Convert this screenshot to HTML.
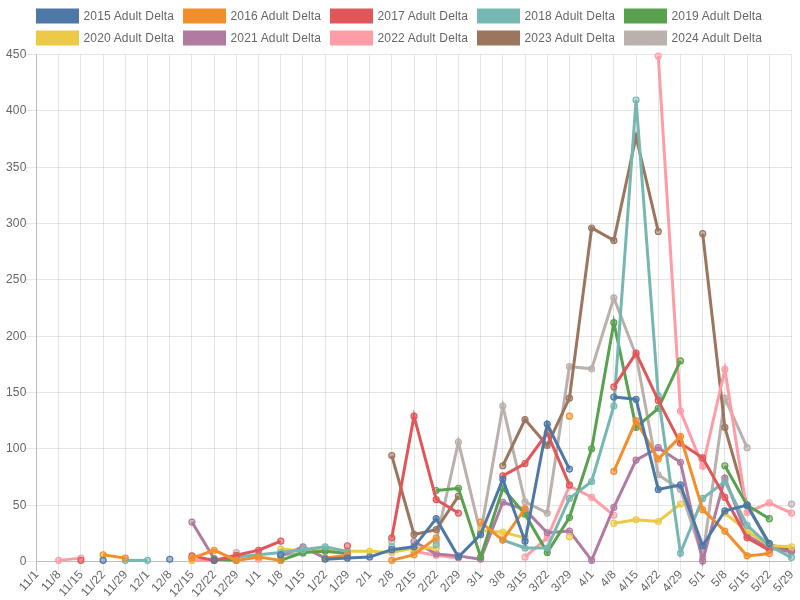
<!DOCTYPE html>
<html><head><meta charset="utf-8"><style>
html,body{margin:0;padding:0;background:#fff;width:800px;height:600px;overflow:hidden;position:relative}
.t{font-family:"Liberation Sans",sans-serif;font-size:12px;fill:#666;letter-spacing:0.16px}
</style></head><body>
<svg width="800" height="600" viewBox="0 0 800 600" style="position:absolute;left:0;top:0;will-change:transform">
<line x1="26" y1="561.5" x2="36" y2="561.5" stroke="rgba(0,0,0,0.1)" stroke-width="1"/>
<line x1="26" y1="505.5" x2="791.5" y2="505.5" stroke="rgba(0,0,0,0.1)" stroke-width="1"/>
<line x1="26" y1="448.5" x2="791.5" y2="448.5" stroke="rgba(0,0,0,0.1)" stroke-width="1"/>
<line x1="26" y1="392.5" x2="791.5" y2="392.5" stroke="rgba(0,0,0,0.1)" stroke-width="1"/>
<line x1="26" y1="336.5" x2="791.5" y2="336.5" stroke="rgba(0,0,0,0.1)" stroke-width="1"/>
<line x1="26" y1="279.5" x2="791.5" y2="279.5" stroke="rgba(0,0,0,0.1)" stroke-width="1"/>
<line x1="26" y1="223.5" x2="791.5" y2="223.5" stroke="rgba(0,0,0,0.1)" stroke-width="1"/>
<line x1="26" y1="167.5" x2="791.5" y2="167.5" stroke="rgba(0,0,0,0.1)" stroke-width="1"/>
<line x1="26" y1="110.5" x2="791.5" y2="110.5" stroke="rgba(0,0,0,0.1)" stroke-width="1"/>
<line x1="26" y1="54.5" x2="791.5" y2="54.5" stroke="rgba(0,0,0,0.1)" stroke-width="1"/>
<line x1="58.5" y1="54.5" x2="58.5" y2="571.5" stroke="rgba(0,0,0,0.1)" stroke-width="1"/>
<line x1="80.5" y1="54.5" x2="80.5" y2="571.5" stroke="rgba(0,0,0,0.1)" stroke-width="1"/>
<line x1="103.5" y1="54.5" x2="103.5" y2="571.5" stroke="rgba(0,0,0,0.1)" stroke-width="1"/>
<line x1="125.5" y1="54.5" x2="125.5" y2="571.5" stroke="rgba(0,0,0,0.1)" stroke-width="1"/>
<line x1="147.5" y1="54.5" x2="147.5" y2="571.5" stroke="rgba(0,0,0,0.1)" stroke-width="1"/>
<line x1="169.5" y1="54.5" x2="169.5" y2="571.5" stroke="rgba(0,0,0,0.1)" stroke-width="1"/>
<line x1="191.5" y1="54.5" x2="191.5" y2="571.5" stroke="rgba(0,0,0,0.1)" stroke-width="1"/>
<line x1="214.5" y1="54.5" x2="214.5" y2="571.5" stroke="rgba(0,0,0,0.1)" stroke-width="1"/>
<line x1="236.5" y1="54.5" x2="236.5" y2="571.5" stroke="rgba(0,0,0,0.1)" stroke-width="1"/>
<line x1="258.5" y1="54.5" x2="258.5" y2="571.5" stroke="rgba(0,0,0,0.1)" stroke-width="1"/>
<line x1="280.5" y1="54.5" x2="280.5" y2="571.5" stroke="rgba(0,0,0,0.1)" stroke-width="1"/>
<line x1="302.5" y1="54.5" x2="302.5" y2="571.5" stroke="rgba(0,0,0,0.1)" stroke-width="1"/>
<line x1="325.5" y1="54.5" x2="325.5" y2="571.5" stroke="rgba(0,0,0,0.1)" stroke-width="1"/>
<line x1="347.5" y1="54.5" x2="347.5" y2="571.5" stroke="rgba(0,0,0,0.1)" stroke-width="1"/>
<line x1="369.5" y1="54.5" x2="369.5" y2="571.5" stroke="rgba(0,0,0,0.1)" stroke-width="1"/>
<line x1="391.5" y1="54.5" x2="391.5" y2="571.5" stroke="rgba(0,0,0,0.1)" stroke-width="1"/>
<line x1="414.5" y1="54.5" x2="414.5" y2="571.5" stroke="rgba(0,0,0,0.1)" stroke-width="1"/>
<line x1="436.5" y1="54.5" x2="436.5" y2="571.5" stroke="rgba(0,0,0,0.1)" stroke-width="1"/>
<line x1="458.5" y1="54.5" x2="458.5" y2="571.5" stroke="rgba(0,0,0,0.1)" stroke-width="1"/>
<line x1="480.5" y1="54.5" x2="480.5" y2="571.5" stroke="rgba(0,0,0,0.1)" stroke-width="1"/>
<line x1="502.5" y1="54.5" x2="502.5" y2="571.5" stroke="rgba(0,0,0,0.1)" stroke-width="1"/>
<line x1="525.5" y1="54.5" x2="525.5" y2="571.5" stroke="rgba(0,0,0,0.1)" stroke-width="1"/>
<line x1="547.5" y1="54.5" x2="547.5" y2="571.5" stroke="rgba(0,0,0,0.1)" stroke-width="1"/>
<line x1="569.5" y1="54.5" x2="569.5" y2="571.5" stroke="rgba(0,0,0,0.1)" stroke-width="1"/>
<line x1="591.5" y1="54.5" x2="591.5" y2="571.5" stroke="rgba(0,0,0,0.1)" stroke-width="1"/>
<line x1="613.5" y1="54.5" x2="613.5" y2="571.5" stroke="rgba(0,0,0,0.1)" stroke-width="1"/>
<line x1="636.5" y1="54.5" x2="636.5" y2="571.5" stroke="rgba(0,0,0,0.1)" stroke-width="1"/>
<line x1="658.5" y1="54.5" x2="658.5" y2="571.5" stroke="rgba(0,0,0,0.1)" stroke-width="1"/>
<line x1="680.5" y1="54.5" x2="680.5" y2="571.5" stroke="rgba(0,0,0,0.1)" stroke-width="1"/>
<line x1="702.5" y1="54.5" x2="702.5" y2="571.5" stroke="rgba(0,0,0,0.1)" stroke-width="1"/>
<line x1="724.5" y1="54.5" x2="724.5" y2="571.5" stroke="rgba(0,0,0,0.1)" stroke-width="1"/>
<line x1="747.5" y1="54.5" x2="747.5" y2="571.5" stroke="rgba(0,0,0,0.1)" stroke-width="1"/>
<line x1="769.5" y1="54.5" x2="769.5" y2="571.5" stroke="rgba(0,0,0,0.1)" stroke-width="1"/>
<line x1="791.5" y1="54.5" x2="791.5" y2="571.5" stroke="rgba(0,0,0,0.1)" stroke-width="1"/>
<line x1="36" y1="561.5" x2="791.5" y2="561.5" stroke="#bcbcbc" stroke-width="1"/>
<line x1="36.5" y1="54.5" x2="36.5" y2="571.5" stroke="#bcbcbc" stroke-width="1"/>
<text x="26.5" y="565.10" text-anchor="end" class="t">0</text>
<text x="26.5" y="508.77" text-anchor="end" class="t">50</text>
<text x="26.5" y="452.43" text-anchor="end" class="t">100</text>
<text x="26.5" y="396.10" text-anchor="end" class="t">150</text>
<text x="26.5" y="339.77" text-anchor="end" class="t">200</text>
<text x="26.5" y="283.43" text-anchor="end" class="t">250</text>
<text x="26.5" y="227.10" text-anchor="end" class="t">300</text>
<text x="26.5" y="170.77" text-anchor="end" class="t">350</text>
<text x="26.5" y="114.43" text-anchor="end" class="t">400</text>
<text x="26.5" y="58.10" text-anchor="end" class="t">450</text>
<text transform="translate(36.20,571.80) rotate(-48)" x="0" y="4.3" text-anchor="end" class="t">11/1</text>
<text transform="translate(58.41,571.80) rotate(-48)" x="0" y="4.3" text-anchor="end" class="t">11/8</text>
<text transform="translate(80.61,571.80) rotate(-48)" x="0" y="4.3" text-anchor="end" class="t">11/15</text>
<text transform="translate(102.82,571.80) rotate(-48)" x="0" y="4.3" text-anchor="end" class="t">11/22</text>
<text transform="translate(125.02,571.80) rotate(-48)" x="0" y="4.3" text-anchor="end" class="t">11/29</text>
<text transform="translate(147.23,571.80) rotate(-48)" x="0" y="4.3" text-anchor="end" class="t">12/1</text>
<text transform="translate(169.44,571.80) rotate(-48)" x="0" y="4.3" text-anchor="end" class="t">12/8</text>
<text transform="translate(191.64,571.80) rotate(-48)" x="0" y="4.3" text-anchor="end" class="t">12/15</text>
<text transform="translate(213.85,571.80) rotate(-48)" x="0" y="4.3" text-anchor="end" class="t">12/22</text>
<text transform="translate(236.05,571.80) rotate(-48)" x="0" y="4.3" text-anchor="end" class="t">12/29</text>
<text transform="translate(258.26,571.80) rotate(-48)" x="0" y="4.3" text-anchor="end" class="t">1/1</text>
<text transform="translate(280.46,571.80) rotate(-48)" x="0" y="4.3" text-anchor="end" class="t">1/8</text>
<text transform="translate(302.67,571.80) rotate(-48)" x="0" y="4.3" text-anchor="end" class="t">1/15</text>
<text transform="translate(324.88,571.80) rotate(-48)" x="0" y="4.3" text-anchor="end" class="t">1/22</text>
<text transform="translate(347.08,571.80) rotate(-48)" x="0" y="4.3" text-anchor="end" class="t">1/29</text>
<text transform="translate(369.29,571.80) rotate(-48)" x="0" y="4.3" text-anchor="end" class="t">2/1</text>
<text transform="translate(391.49,571.80) rotate(-48)" x="0" y="4.3" text-anchor="end" class="t">2/8</text>
<text transform="translate(413.70,571.80) rotate(-48)" x="0" y="4.3" text-anchor="end" class="t">2/15</text>
<text transform="translate(435.91,571.80) rotate(-48)" x="0" y="4.3" text-anchor="end" class="t">2/22</text>
<text transform="translate(458.11,571.80) rotate(-48)" x="0" y="4.3" text-anchor="end" class="t">2/29</text>
<text transform="translate(480.32,571.80) rotate(-48)" x="0" y="4.3" text-anchor="end" class="t">3/1</text>
<text transform="translate(502.52,571.80) rotate(-48)" x="0" y="4.3" text-anchor="end" class="t">3/8</text>
<text transform="translate(524.73,571.80) rotate(-48)" x="0" y="4.3" text-anchor="end" class="t">3/15</text>
<text transform="translate(546.94,571.80) rotate(-48)" x="0" y="4.3" text-anchor="end" class="t">3/22</text>
<text transform="translate(569.14,571.80) rotate(-48)" x="0" y="4.3" text-anchor="end" class="t">3/29</text>
<text transform="translate(591.35,571.80) rotate(-48)" x="0" y="4.3" text-anchor="end" class="t">4/1</text>
<text transform="translate(613.55,571.80) rotate(-48)" x="0" y="4.3" text-anchor="end" class="t">4/8</text>
<text transform="translate(635.76,571.80) rotate(-48)" x="0" y="4.3" text-anchor="end" class="t">4/15</text>
<text transform="translate(657.96,571.80) rotate(-48)" x="0" y="4.3" text-anchor="end" class="t">4/22</text>
<text transform="translate(680.17,571.80) rotate(-48)" x="0" y="4.3" text-anchor="end" class="t">4/29</text>
<text transform="translate(702.38,571.80) rotate(-48)" x="0" y="4.3" text-anchor="end" class="t">5/1</text>
<text transform="translate(724.58,571.80) rotate(-48)" x="0" y="4.3" text-anchor="end" class="t">5/8</text>
<text transform="translate(746.79,571.80) rotate(-48)" x="0" y="4.3" text-anchor="end" class="t">5/15</text>
<text transform="translate(768.99,571.80) rotate(-48)" x="0" y="4.3" text-anchor="end" class="t">5/22</text>
<text transform="translate(791.20,571.80) rotate(-48)" x="0" y="4.3" text-anchor="end" class="t">5/29</text>
<polyline points="280.76,554.74 302.97,553.61" fill="none" stroke="#bab0ac" stroke-width="3" stroke-linejoin="miter" stroke-miterlimit="10" stroke-linecap="butt"/>
<polyline points="436.21,541.22 458.41,442.07 480.62,533.33 502.82,406.02 525.03,501.79 547.24,513.05 569.44,366.59 591.65,368.84 613.85,297.86 636.06,355.32 658.26,474.75 680.47,489.39 702.68,556.99 724.88,398.13 747.09,447.71" fill="none" stroke="#bab0ac" stroke-width="3" stroke-linejoin="miter" stroke-miterlimit="10" stroke-linecap="butt"/>
<circle cx="236.35" cy="552.49" r="3" fill="rgba(186,176,172,0.5)" stroke="#bab0ac" stroke-width="1.2"/>
<circle cx="280.76" cy="554.74" r="3" fill="rgba(186,176,172,0.5)" stroke="#bab0ac" stroke-width="1.2"/>
<circle cx="302.97" cy="553.61" r="3" fill="rgba(186,176,172,0.5)" stroke="#bab0ac" stroke-width="1.2"/>
<circle cx="391.79" cy="541.22" r="3" fill="rgba(186,176,172,0.5)" stroke="#bab0ac" stroke-width="1.2"/>
<circle cx="436.21" cy="541.22" r="3" fill="rgba(186,176,172,0.5)" stroke="#bab0ac" stroke-width="1.2"/>
<circle cx="458.41" cy="442.07" r="3" fill="rgba(186,176,172,0.5)" stroke="#bab0ac" stroke-width="1.2"/>
<circle cx="480.62" cy="533.33" r="3" fill="rgba(186,176,172,0.5)" stroke="#bab0ac" stroke-width="1.2"/>
<circle cx="502.82" cy="406.02" r="3" fill="rgba(186,176,172,0.5)" stroke="#bab0ac" stroke-width="1.2"/>
<circle cx="525.03" cy="501.79" r="3" fill="rgba(186,176,172,0.5)" stroke="#bab0ac" stroke-width="1.2"/>
<circle cx="547.24" cy="513.05" r="3" fill="rgba(186,176,172,0.5)" stroke="#bab0ac" stroke-width="1.2"/>
<circle cx="569.44" cy="366.59" r="3" fill="rgba(186,176,172,0.5)" stroke="#bab0ac" stroke-width="1.2"/>
<circle cx="591.65" cy="368.84" r="3" fill="rgba(186,176,172,0.5)" stroke="#bab0ac" stroke-width="1.2"/>
<circle cx="613.85" cy="297.86" r="3" fill="rgba(186,176,172,0.5)" stroke="#bab0ac" stroke-width="1.2"/>
<circle cx="636.06" cy="355.32" r="3" fill="rgba(186,176,172,0.5)" stroke="#bab0ac" stroke-width="1.2"/>
<circle cx="658.26" cy="474.75" r="3" fill="rgba(186,176,172,0.5)" stroke="#bab0ac" stroke-width="1.2"/>
<circle cx="680.47" cy="489.39" r="3" fill="rgba(186,176,172,0.5)" stroke="#bab0ac" stroke-width="1.2"/>
<circle cx="702.68" cy="556.99" r="3" fill="rgba(186,176,172,0.5)" stroke="#bab0ac" stroke-width="1.2"/>
<circle cx="724.88" cy="398.13" r="3" fill="rgba(186,176,172,0.5)" stroke="#bab0ac" stroke-width="1.2"/>
<circle cx="747.09" cy="447.71" r="3" fill="rgba(186,176,172,0.5)" stroke="#bab0ac" stroke-width="1.2"/>
<circle cx="791.50" cy="504.04" r="3" fill="rgba(186,176,172,0.5)" stroke="#bab0ac" stroke-width="1.2"/>
<polyline points="391.79,455.59 414.00,534.46 436.21,529.62 458.41,496.15" fill="none" stroke="#9c755f" stroke-width="3" stroke-linejoin="miter" stroke-miterlimit="10" stroke-linecap="butt"/>
<polyline points="502.82,465.73 525.03,419.54 547.24,445.45 569.44,398.13 591.65,228.01 613.85,240.40 636.06,136.75 658.26,231.39" fill="none" stroke="#9c755f" stroke-width="3" stroke-linejoin="miter" stroke-miterlimit="10" stroke-linecap="butt"/>
<polyline points="702.68,233.64 724.88,427.43 747.09,505.17 769.29,544.60 791.50,550.23" fill="none" stroke="#9c755f" stroke-width="3" stroke-linejoin="miter" stroke-miterlimit="10" stroke-linecap="butt"/>
<circle cx="391.79" cy="455.59" r="3" fill="rgba(156,117,95,0.5)" stroke="#9c755f" stroke-width="1.2"/>
<circle cx="414.00" cy="534.46" r="3" fill="rgba(156,117,95,0.5)" stroke="#9c755f" stroke-width="1.2"/>
<circle cx="436.21" cy="529.62" r="3" fill="rgba(156,117,95,0.5)" stroke="#9c755f" stroke-width="1.2"/>
<circle cx="458.41" cy="496.15" r="3" fill="rgba(156,117,95,0.5)" stroke="#9c755f" stroke-width="1.2"/>
<circle cx="502.82" cy="465.73" r="3" fill="rgba(156,117,95,0.5)" stroke="#9c755f" stroke-width="1.2"/>
<circle cx="525.03" cy="419.54" r="3" fill="rgba(156,117,95,0.5)" stroke="#9c755f" stroke-width="1.2"/>
<circle cx="547.24" cy="445.45" r="3" fill="rgba(156,117,95,0.5)" stroke="#9c755f" stroke-width="1.2"/>
<circle cx="569.44" cy="398.13" r="3" fill="rgba(156,117,95,0.5)" stroke="#9c755f" stroke-width="1.2"/>
<circle cx="591.65" cy="228.01" r="3" fill="rgba(156,117,95,0.5)" stroke="#9c755f" stroke-width="1.2"/>
<circle cx="613.85" cy="240.40" r="3" fill="rgba(156,117,95,0.5)" stroke="#9c755f" stroke-width="1.2"/>
<circle cx="636.06" cy="136.75" r="3" fill="rgba(156,117,95,0.5)" stroke="#9c755f" stroke-width="1.2"/>
<circle cx="658.26" cy="231.39" r="3" fill="rgba(156,117,95,0.5)" stroke="#9c755f" stroke-width="1.2"/>
<circle cx="702.68" cy="233.64" r="3" fill="rgba(156,117,95,0.5)" stroke="#9c755f" stroke-width="1.2"/>
<circle cx="724.88" cy="427.43" r="3" fill="rgba(156,117,95,0.5)" stroke="#9c755f" stroke-width="1.2"/>
<circle cx="747.09" cy="505.17" r="3" fill="rgba(156,117,95,0.5)" stroke="#9c755f" stroke-width="1.2"/>
<circle cx="769.29" cy="544.60" r="3" fill="rgba(156,117,95,0.5)" stroke="#9c755f" stroke-width="1.2"/>
<circle cx="791.50" cy="550.23" r="3" fill="rgba(156,117,95,0.5)" stroke="#9c755f" stroke-width="1.2"/>
<polyline points="58.71,560.37 80.91,558.12" fill="none" stroke="#ff9da7" stroke-width="3" stroke-linejoin="miter" stroke-miterlimit="10" stroke-linecap="butt"/>
<polyline points="191.94,560.37 214.15,560.37" fill="none" stroke="#ff9da7" stroke-width="3" stroke-linejoin="miter" stroke-miterlimit="10" stroke-linecap="butt"/>
<polyline points="414.00,551.36 436.21,555.30 458.41,558.12" fill="none" stroke="#ff9da7" stroke-width="3" stroke-linejoin="miter" stroke-miterlimit="10" stroke-linecap="butt"/>
<polyline points="525.03,556.99 547.24,537.84 569.44,486.01 591.65,497.28 613.85,515.31" fill="none" stroke="#ff9da7" stroke-width="3" stroke-linejoin="miter" stroke-miterlimit="10" stroke-linecap="butt"/>
<polyline points="658.26,56.08 680.47,411.09 702.68,466.30 724.88,369.40 747.09,512.60 769.29,502.91 791.50,513.05" fill="none" stroke="#ff9da7" stroke-width="3" stroke-linejoin="miter" stroke-miterlimit="10" stroke-linecap="butt"/>
<circle cx="58.71" cy="560.37" r="3" fill="rgba(255,157,167,0.5)" stroke="#ff9da7" stroke-width="1.2"/>
<circle cx="80.91" cy="558.12" r="3" fill="rgba(255,157,167,0.5)" stroke="#ff9da7" stroke-width="1.2"/>
<circle cx="191.94" cy="560.37" r="3" fill="rgba(255,157,167,0.5)" stroke="#ff9da7" stroke-width="1.2"/>
<circle cx="214.15" cy="560.37" r="3" fill="rgba(255,157,167,0.5)" stroke="#ff9da7" stroke-width="1.2"/>
<circle cx="258.56" cy="559.25" r="3" fill="rgba(255,157,167,0.5)" stroke="#ff9da7" stroke-width="1.2"/>
<circle cx="414.00" cy="551.36" r="3" fill="rgba(255,157,167,0.5)" stroke="#ff9da7" stroke-width="1.2"/>
<circle cx="436.21" cy="555.30" r="3" fill="rgba(255,157,167,0.5)" stroke="#ff9da7" stroke-width="1.2"/>
<circle cx="458.41" cy="558.12" r="3" fill="rgba(255,157,167,0.5)" stroke="#ff9da7" stroke-width="1.2"/>
<circle cx="525.03" cy="556.99" r="3" fill="rgba(255,157,167,0.5)" stroke="#ff9da7" stroke-width="1.2"/>
<circle cx="547.24" cy="537.84" r="3" fill="rgba(255,157,167,0.5)" stroke="#ff9da7" stroke-width="1.2"/>
<circle cx="569.44" cy="486.01" r="3" fill="rgba(255,157,167,0.5)" stroke="#ff9da7" stroke-width="1.2"/>
<circle cx="591.65" cy="497.28" r="3" fill="rgba(255,157,167,0.5)" stroke="#ff9da7" stroke-width="1.2"/>
<circle cx="613.85" cy="515.31" r="3" fill="rgba(255,157,167,0.5)" stroke="#ff9da7" stroke-width="1.2"/>
<circle cx="658.26" cy="56.08" r="3" fill="rgba(255,157,167,0.5)" stroke="#ff9da7" stroke-width="1.2"/>
<circle cx="680.47" cy="411.09" r="3" fill="rgba(255,157,167,0.5)" stroke="#ff9da7" stroke-width="1.2"/>
<circle cx="702.68" cy="466.30" r="3" fill="rgba(255,157,167,0.5)" stroke="#ff9da7" stroke-width="1.2"/>
<circle cx="724.88" cy="369.40" r="3" fill="rgba(255,157,167,0.5)" stroke="#ff9da7" stroke-width="1.2"/>
<circle cx="747.09" cy="512.60" r="3" fill="rgba(255,157,167,0.5)" stroke="#ff9da7" stroke-width="1.2"/>
<circle cx="769.29" cy="502.91" r="3" fill="rgba(255,157,167,0.5)" stroke="#ff9da7" stroke-width="1.2"/>
<circle cx="791.50" cy="513.05" r="3" fill="rgba(255,157,167,0.5)" stroke="#ff9da7" stroke-width="1.2"/>
<polyline points="191.94,522.07 214.15,558.68" fill="none" stroke="#b07aa1" stroke-width="3" stroke-linejoin="miter" stroke-miterlimit="10" stroke-linecap="butt"/>
<polyline points="280.76,555.87 302.97,546.85 325.18,558.12 347.38,555.87" fill="none" stroke="#b07aa1" stroke-width="3" stroke-linejoin="miter" stroke-miterlimit="10" stroke-linecap="butt"/>
<polyline points="414.00,541.50 436.21,553.95 458.41,555.87 480.62,559.25 502.82,502.24 525.03,509.67 547.24,532.77 569.44,531.08 591.65,560.37 613.85,507.42 636.06,460.10 658.26,447.71 680.47,462.35 702.68,560.94 724.88,478.13 747.09,535.59 769.29,547.98 791.50,551.92" fill="none" stroke="#b07aa1" stroke-width="3" stroke-linejoin="miter" stroke-miterlimit="10" stroke-linecap="butt"/>
<circle cx="191.94" cy="522.07" r="3" fill="rgba(176,122,161,0.5)" stroke="#b07aa1" stroke-width="1.2"/>
<circle cx="214.15" cy="558.68" r="3" fill="rgba(176,122,161,0.5)" stroke="#b07aa1" stroke-width="1.2"/>
<circle cx="280.76" cy="555.87" r="3" fill="rgba(176,122,161,0.5)" stroke="#b07aa1" stroke-width="1.2"/>
<circle cx="302.97" cy="546.85" r="3" fill="rgba(176,122,161,0.5)" stroke="#b07aa1" stroke-width="1.2"/>
<circle cx="325.18" cy="558.12" r="3" fill="rgba(176,122,161,0.5)" stroke="#b07aa1" stroke-width="1.2"/>
<circle cx="347.38" cy="555.87" r="3" fill="rgba(176,122,161,0.5)" stroke="#b07aa1" stroke-width="1.2"/>
<circle cx="414.00" cy="541.50" r="3" fill="rgba(176,122,161,0.5)" stroke="#b07aa1" stroke-width="1.2"/>
<circle cx="436.21" cy="553.95" r="3" fill="rgba(176,122,161,0.5)" stroke="#b07aa1" stroke-width="1.2"/>
<circle cx="458.41" cy="555.87" r="3" fill="rgba(176,122,161,0.5)" stroke="#b07aa1" stroke-width="1.2"/>
<circle cx="480.62" cy="559.25" r="3" fill="rgba(176,122,161,0.5)" stroke="#b07aa1" stroke-width="1.2"/>
<circle cx="502.82" cy="502.24" r="3" fill="rgba(176,122,161,0.5)" stroke="#b07aa1" stroke-width="1.2"/>
<circle cx="525.03" cy="509.67" r="3" fill="rgba(176,122,161,0.5)" stroke="#b07aa1" stroke-width="1.2"/>
<circle cx="547.24" cy="532.77" r="3" fill="rgba(176,122,161,0.5)" stroke="#b07aa1" stroke-width="1.2"/>
<circle cx="569.44" cy="531.08" r="3" fill="rgba(176,122,161,0.5)" stroke="#b07aa1" stroke-width="1.2"/>
<circle cx="591.65" cy="560.37" r="3" fill="rgba(176,122,161,0.5)" stroke="#b07aa1" stroke-width="1.2"/>
<circle cx="613.85" cy="507.42" r="3" fill="rgba(176,122,161,0.5)" stroke="#b07aa1" stroke-width="1.2"/>
<circle cx="636.06" cy="460.10" r="3" fill="rgba(176,122,161,0.5)" stroke="#b07aa1" stroke-width="1.2"/>
<circle cx="658.26" cy="447.71" r="3" fill="rgba(176,122,161,0.5)" stroke="#b07aa1" stroke-width="1.2"/>
<circle cx="680.47" cy="462.35" r="3" fill="rgba(176,122,161,0.5)" stroke="#b07aa1" stroke-width="1.2"/>
<circle cx="702.68" cy="560.94" r="3" fill="rgba(176,122,161,0.5)" stroke="#b07aa1" stroke-width="1.2"/>
<circle cx="724.88" cy="478.13" r="3" fill="rgba(176,122,161,0.5)" stroke="#b07aa1" stroke-width="1.2"/>
<circle cx="747.09" cy="535.59" r="3" fill="rgba(176,122,161,0.5)" stroke="#b07aa1" stroke-width="1.2"/>
<circle cx="769.29" cy="547.98" r="3" fill="rgba(176,122,161,0.5)" stroke="#b07aa1" stroke-width="1.2"/>
<circle cx="791.50" cy="551.92" r="3" fill="rgba(176,122,161,0.5)" stroke="#b07aa1" stroke-width="1.2"/>
<polyline points="280.76,549.11 302.97,550.91 325.18,549.67 347.38,551.36 369.59,551.36 391.79,552.49 414.00,547.98 436.21,547.98" fill="none" stroke="#edc948" stroke-width="3" stroke-linejoin="miter" stroke-miterlimit="10" stroke-linecap="butt"/>
<polyline points="480.62,530.52 502.82,532.21 525.03,537.84" fill="none" stroke="#edc948" stroke-width="3" stroke-linejoin="miter" stroke-miterlimit="10" stroke-linecap="butt"/>
<polyline points="613.85,523.19 636.06,519.81 658.26,521.50 680.47,504.04" fill="none" stroke="#edc948" stroke-width="3" stroke-linejoin="miter" stroke-miterlimit="10" stroke-linecap="butt"/>
<polyline points="724.88,513.05 747.09,531.08 769.29,545.73 791.50,546.85" fill="none" stroke="#edc948" stroke-width="3" stroke-linejoin="miter" stroke-miterlimit="10" stroke-linecap="butt"/>
<circle cx="191.94" cy="560.37" r="3" fill="rgba(237,201,72,0.5)" stroke="#edc948" stroke-width="1.2"/>
<circle cx="280.76" cy="549.11" r="3" fill="rgba(237,201,72,0.5)" stroke="#edc948" stroke-width="1.2"/>
<circle cx="302.97" cy="550.91" r="3" fill="rgba(237,201,72,0.5)" stroke="#edc948" stroke-width="1.2"/>
<circle cx="325.18" cy="549.67" r="3" fill="rgba(237,201,72,0.5)" stroke="#edc948" stroke-width="1.2"/>
<circle cx="347.38" cy="551.36" r="3" fill="rgba(237,201,72,0.5)" stroke="#edc948" stroke-width="1.2"/>
<circle cx="369.59" cy="551.36" r="3" fill="rgba(237,201,72,0.5)" stroke="#edc948" stroke-width="1.2"/>
<circle cx="391.79" cy="552.49" r="3" fill="rgba(237,201,72,0.5)" stroke="#edc948" stroke-width="1.2"/>
<circle cx="414.00" cy="547.98" r="3" fill="rgba(237,201,72,0.5)" stroke="#edc948" stroke-width="1.2"/>
<circle cx="436.21" cy="547.98" r="3" fill="rgba(237,201,72,0.5)" stroke="#edc948" stroke-width="1.2"/>
<circle cx="480.62" cy="530.52" r="3" fill="rgba(237,201,72,0.5)" stroke="#edc948" stroke-width="1.2"/>
<circle cx="502.82" cy="532.21" r="3" fill="rgba(237,201,72,0.5)" stroke="#edc948" stroke-width="1.2"/>
<circle cx="525.03" cy="537.84" r="3" fill="rgba(237,201,72,0.5)" stroke="#edc948" stroke-width="1.2"/>
<circle cx="569.44" cy="536.71" r="3" fill="rgba(237,201,72,0.5)" stroke="#edc948" stroke-width="1.2"/>
<circle cx="613.85" cy="523.19" r="3" fill="rgba(237,201,72,0.5)" stroke="#edc948" stroke-width="1.2"/>
<circle cx="636.06" cy="519.81" r="3" fill="rgba(237,201,72,0.5)" stroke="#edc948" stroke-width="1.2"/>
<circle cx="658.26" cy="521.50" r="3" fill="rgba(237,201,72,0.5)" stroke="#edc948" stroke-width="1.2"/>
<circle cx="680.47" cy="504.04" r="3" fill="rgba(237,201,72,0.5)" stroke="#edc948" stroke-width="1.2"/>
<circle cx="724.88" cy="513.05" r="3" fill="rgba(237,201,72,0.5)" stroke="#edc948" stroke-width="1.2"/>
<circle cx="747.09" cy="531.08" r="3" fill="rgba(237,201,72,0.5)" stroke="#edc948" stroke-width="1.2"/>
<circle cx="769.29" cy="545.73" r="3" fill="rgba(237,201,72,0.5)" stroke="#edc948" stroke-width="1.2"/>
<circle cx="791.50" cy="546.85" r="3" fill="rgba(237,201,72,0.5)" stroke="#edc948" stroke-width="1.2"/>
<polyline points="214.15,559.25 236.35,560.37" fill="none" stroke="#59a14f" stroke-width="3" stroke-linejoin="miter" stroke-miterlimit="10" stroke-linecap="butt"/>
<polyline points="280.76,560.37 302.97,552.49 325.18,551.36 347.38,553.61" fill="none" stroke="#59a14f" stroke-width="3" stroke-linejoin="miter" stroke-miterlimit="10" stroke-linecap="butt"/>
<polyline points="436.21,490.52 458.41,488.27 480.62,556.99 502.82,488.27 525.03,514.18 547.24,552.49 569.44,517.56 591.65,448.83 613.85,322.65 636.06,427.43 658.26,408.27 680.47,360.95" fill="none" stroke="#59a14f" stroke-width="3" stroke-linejoin="miter" stroke-miterlimit="10" stroke-linecap="butt"/>
<polyline points="724.88,465.73 747.09,505.17 769.29,518.69" fill="none" stroke="#59a14f" stroke-width="3" stroke-linejoin="miter" stroke-miterlimit="10" stroke-linecap="butt"/>
<circle cx="214.15" cy="559.25" r="3" fill="rgba(89,161,79,0.5)" stroke="#59a14f" stroke-width="1.2"/>
<circle cx="236.35" cy="560.37" r="3" fill="rgba(89,161,79,0.5)" stroke="#59a14f" stroke-width="1.2"/>
<circle cx="280.76" cy="560.37" r="3" fill="rgba(89,161,79,0.5)" stroke="#59a14f" stroke-width="1.2"/>
<circle cx="302.97" cy="552.49" r="3" fill="rgba(89,161,79,0.5)" stroke="#59a14f" stroke-width="1.2"/>
<circle cx="325.18" cy="551.36" r="3" fill="rgba(89,161,79,0.5)" stroke="#59a14f" stroke-width="1.2"/>
<circle cx="347.38" cy="553.61" r="3" fill="rgba(89,161,79,0.5)" stroke="#59a14f" stroke-width="1.2"/>
<circle cx="436.21" cy="490.52" r="3" fill="rgba(89,161,79,0.5)" stroke="#59a14f" stroke-width="1.2"/>
<circle cx="458.41" cy="488.27" r="3" fill="rgba(89,161,79,0.5)" stroke="#59a14f" stroke-width="1.2"/>
<circle cx="480.62" cy="556.99" r="3" fill="rgba(89,161,79,0.5)" stroke="#59a14f" stroke-width="1.2"/>
<circle cx="502.82" cy="488.27" r="3" fill="rgba(89,161,79,0.5)" stroke="#59a14f" stroke-width="1.2"/>
<circle cx="525.03" cy="514.18" r="3" fill="rgba(89,161,79,0.5)" stroke="#59a14f" stroke-width="1.2"/>
<circle cx="547.24" cy="552.49" r="3" fill="rgba(89,161,79,0.5)" stroke="#59a14f" stroke-width="1.2"/>
<circle cx="569.44" cy="517.56" r="3" fill="rgba(89,161,79,0.5)" stroke="#59a14f" stroke-width="1.2"/>
<circle cx="591.65" cy="448.83" r="3" fill="rgba(89,161,79,0.5)" stroke="#59a14f" stroke-width="1.2"/>
<circle cx="613.85" cy="322.65" r="3" fill="rgba(89,161,79,0.5)" stroke="#59a14f" stroke-width="1.2"/>
<circle cx="636.06" cy="427.43" r="3" fill="rgba(89,161,79,0.5)" stroke="#59a14f" stroke-width="1.2"/>
<circle cx="658.26" cy="408.27" r="3" fill="rgba(89,161,79,0.5)" stroke="#59a14f" stroke-width="1.2"/>
<circle cx="680.47" cy="360.95" r="3" fill="rgba(89,161,79,0.5)" stroke="#59a14f" stroke-width="1.2"/>
<circle cx="724.88" cy="465.73" r="3" fill="rgba(89,161,79,0.5)" stroke="#59a14f" stroke-width="1.2"/>
<circle cx="747.09" cy="505.17" r="3" fill="rgba(89,161,79,0.5)" stroke="#59a14f" stroke-width="1.2"/>
<circle cx="769.29" cy="518.69" r="3" fill="rgba(89,161,79,0.5)" stroke="#59a14f" stroke-width="1.2"/>
<polyline points="125.32,560.37 147.53,560.37" fill="none" stroke="#76b7b2" stroke-width="3" stroke-linejoin="miter" stroke-miterlimit="10" stroke-linecap="butt"/>
<polyline points="236.35,556.99 258.56,554.74 280.76,552.49 302.97,549.67 325.18,546.85 347.38,551.36" fill="none" stroke="#76b7b2" stroke-width="3" stroke-linejoin="miter" stroke-miterlimit="10" stroke-linecap="butt"/>
<polyline points="502.82,540.09 525.03,547.98 547.24,547.98 569.44,498.41 591.65,481.51 613.85,406.02 636.06,100.02 658.26,395.88 680.47,553.05 702.68,498.41 724.88,481.51 747.09,525.45 769.29,545.73 791.50,557.56" fill="none" stroke="#76b7b2" stroke-width="3" stroke-linejoin="miter" stroke-miterlimit="10" stroke-linecap="butt"/>
<circle cx="125.32" cy="560.37" r="3" fill="rgba(118,183,178,0.5)" stroke="#76b7b2" stroke-width="1.2"/>
<circle cx="147.53" cy="560.37" r="3" fill="rgba(118,183,178,0.5)" stroke="#76b7b2" stroke-width="1.2"/>
<circle cx="236.35" cy="556.99" r="3" fill="rgba(118,183,178,0.5)" stroke="#76b7b2" stroke-width="1.2"/>
<circle cx="258.56" cy="554.74" r="3" fill="rgba(118,183,178,0.5)" stroke="#76b7b2" stroke-width="1.2"/>
<circle cx="280.76" cy="552.49" r="3" fill="rgba(118,183,178,0.5)" stroke="#76b7b2" stroke-width="1.2"/>
<circle cx="302.97" cy="549.67" r="3" fill="rgba(118,183,178,0.5)" stroke="#76b7b2" stroke-width="1.2"/>
<circle cx="325.18" cy="546.85" r="3" fill="rgba(118,183,178,0.5)" stroke="#76b7b2" stroke-width="1.2"/>
<circle cx="347.38" cy="551.36" r="3" fill="rgba(118,183,178,0.5)" stroke="#76b7b2" stroke-width="1.2"/>
<circle cx="391.79" cy="546.85" r="3" fill="rgba(118,183,178,0.5)" stroke="#76b7b2" stroke-width="1.2"/>
<circle cx="436.21" cy="544.60" r="3" fill="rgba(118,183,178,0.5)" stroke="#76b7b2" stroke-width="1.2"/>
<circle cx="502.82" cy="540.09" r="3" fill="rgba(118,183,178,0.5)" stroke="#76b7b2" stroke-width="1.2"/>
<circle cx="525.03" cy="547.98" r="3" fill="rgba(118,183,178,0.5)" stroke="#76b7b2" stroke-width="1.2"/>
<circle cx="547.24" cy="547.98" r="3" fill="rgba(118,183,178,0.5)" stroke="#76b7b2" stroke-width="1.2"/>
<circle cx="569.44" cy="498.41" r="3" fill="rgba(118,183,178,0.5)" stroke="#76b7b2" stroke-width="1.2"/>
<circle cx="591.65" cy="481.51" r="3" fill="rgba(118,183,178,0.5)" stroke="#76b7b2" stroke-width="1.2"/>
<circle cx="613.85" cy="406.02" r="3" fill="rgba(118,183,178,0.5)" stroke="#76b7b2" stroke-width="1.2"/>
<circle cx="636.06" cy="100.02" r="3" fill="rgba(118,183,178,0.5)" stroke="#76b7b2" stroke-width="1.2"/>
<circle cx="658.26" cy="395.88" r="3" fill="rgba(118,183,178,0.5)" stroke="#76b7b2" stroke-width="1.2"/>
<circle cx="680.47" cy="553.05" r="3" fill="rgba(118,183,178,0.5)" stroke="#76b7b2" stroke-width="1.2"/>
<circle cx="702.68" cy="498.41" r="3" fill="rgba(118,183,178,0.5)" stroke="#76b7b2" stroke-width="1.2"/>
<circle cx="724.88" cy="481.51" r="3" fill="rgba(118,183,178,0.5)" stroke="#76b7b2" stroke-width="1.2"/>
<circle cx="747.09" cy="525.45" r="3" fill="rgba(118,183,178,0.5)" stroke="#76b7b2" stroke-width="1.2"/>
<circle cx="769.29" cy="545.73" r="3" fill="rgba(118,183,178,0.5)" stroke="#76b7b2" stroke-width="1.2"/>
<circle cx="791.50" cy="557.56" r="3" fill="rgba(118,183,178,0.5)" stroke="#76b7b2" stroke-width="1.2"/>
<polyline points="191.94,555.87 214.15,560.37 236.35,555.30 258.56,550.23 280.76,541.22" fill="none" stroke="#e15759" stroke-width="3" stroke-linejoin="miter" stroke-miterlimit="10" stroke-linecap="butt"/>
<polyline points="391.79,537.84 414.00,416.16 436.21,499.53 458.41,513.05" fill="none" stroke="#e15759" stroke-width="3" stroke-linejoin="miter" stroke-miterlimit="10" stroke-linecap="butt"/>
<polyline points="502.82,475.87 525.03,463.48 547.24,433.06 569.44,484.89" fill="none" stroke="#e15759" stroke-width="3" stroke-linejoin="miter" stroke-miterlimit="10" stroke-linecap="butt"/>
<polyline points="613.85,386.87 636.06,353.07 658.26,400.39 680.47,443.20 702.68,457.85 724.88,497.28 747.09,537.84 769.29,550.23" fill="none" stroke="#e15759" stroke-width="3" stroke-linejoin="miter" stroke-miterlimit="10" stroke-linecap="butt"/>
<circle cx="80.91" cy="560.37" r="3" fill="rgba(225,87,89,0.5)" stroke="#e15759" stroke-width="1.2"/>
<circle cx="191.94" cy="555.87" r="3" fill="rgba(225,87,89,0.5)" stroke="#e15759" stroke-width="1.2"/>
<circle cx="214.15" cy="560.37" r="3" fill="rgba(225,87,89,0.5)" stroke="#e15759" stroke-width="1.2"/>
<circle cx="236.35" cy="555.30" r="3" fill="rgba(225,87,89,0.5)" stroke="#e15759" stroke-width="1.2"/>
<circle cx="258.56" cy="550.23" r="3" fill="rgba(225,87,89,0.5)" stroke="#e15759" stroke-width="1.2"/>
<circle cx="280.76" cy="541.22" r="3" fill="rgba(225,87,89,0.5)" stroke="#e15759" stroke-width="1.2"/>
<circle cx="347.38" cy="545.73" r="3" fill="rgba(225,87,89,0.5)" stroke="#e15759" stroke-width="1.2"/>
<circle cx="391.79" cy="537.84" r="3" fill="rgba(225,87,89,0.5)" stroke="#e15759" stroke-width="1.2"/>
<circle cx="414.00" cy="416.16" r="3" fill="rgba(225,87,89,0.5)" stroke="#e15759" stroke-width="1.2"/>
<circle cx="436.21" cy="499.53" r="3" fill="rgba(225,87,89,0.5)" stroke="#e15759" stroke-width="1.2"/>
<circle cx="458.41" cy="513.05" r="3" fill="rgba(225,87,89,0.5)" stroke="#e15759" stroke-width="1.2"/>
<circle cx="502.82" cy="475.87" r="3" fill="rgba(225,87,89,0.5)" stroke="#e15759" stroke-width="1.2"/>
<circle cx="525.03" cy="463.48" r="3" fill="rgba(225,87,89,0.5)" stroke="#e15759" stroke-width="1.2"/>
<circle cx="547.24" cy="433.06" r="3" fill="rgba(225,87,89,0.5)" stroke="#e15759" stroke-width="1.2"/>
<circle cx="569.44" cy="484.89" r="3" fill="rgba(225,87,89,0.5)" stroke="#e15759" stroke-width="1.2"/>
<circle cx="613.85" cy="386.87" r="3" fill="rgba(225,87,89,0.5)" stroke="#e15759" stroke-width="1.2"/>
<circle cx="636.06" cy="353.07" r="3" fill="rgba(225,87,89,0.5)" stroke="#e15759" stroke-width="1.2"/>
<circle cx="658.26" cy="400.39" r="3" fill="rgba(225,87,89,0.5)" stroke="#e15759" stroke-width="1.2"/>
<circle cx="680.47" cy="443.20" r="3" fill="rgba(225,87,89,0.5)" stroke="#e15759" stroke-width="1.2"/>
<circle cx="702.68" cy="457.85" r="3" fill="rgba(225,87,89,0.5)" stroke="#e15759" stroke-width="1.2"/>
<circle cx="724.88" cy="497.28" r="3" fill="rgba(225,87,89,0.5)" stroke="#e15759" stroke-width="1.2"/>
<circle cx="747.09" cy="537.84" r="3" fill="rgba(225,87,89,0.5)" stroke="#e15759" stroke-width="1.2"/>
<circle cx="769.29" cy="550.23" r="3" fill="rgba(225,87,89,0.5)" stroke="#e15759" stroke-width="1.2"/>
<polyline points="103.12,554.74 125.32,558.12" fill="none" stroke="#f28e2b" stroke-width="3" stroke-linejoin="miter" stroke-miterlimit="10" stroke-linecap="butt"/>
<polyline points="191.94,558.12 214.15,550.23 236.35,560.37 258.56,556.99 280.76,560.37" fill="none" stroke="#f28e2b" stroke-width="3" stroke-linejoin="miter" stroke-miterlimit="10" stroke-linecap="butt"/>
<polyline points="325.18,558.12 347.38,555.30" fill="none" stroke="#f28e2b" stroke-width="3" stroke-linejoin="miter" stroke-miterlimit="10" stroke-linecap="butt"/>
<polyline points="391.79,560.37 414.00,554.74 436.21,537.84" fill="none" stroke="#f28e2b" stroke-width="3" stroke-linejoin="miter" stroke-miterlimit="10" stroke-linecap="butt"/>
<polyline points="480.62,522.07 502.82,540.09 525.03,508.55" fill="none" stroke="#f28e2b" stroke-width="3" stroke-linejoin="miter" stroke-miterlimit="10" stroke-linecap="butt"/>
<polyline points="613.85,471.37 636.06,420.67 658.26,458.97 680.47,436.44 702.68,509.67 724.88,531.08 747.09,555.87 769.29,553.61" fill="none" stroke="#f28e2b" stroke-width="3" stroke-linejoin="miter" stroke-miterlimit="10" stroke-linecap="butt"/>
<circle cx="103.12" cy="554.74" r="3" fill="rgba(242,142,43,0.5)" stroke="#f28e2b" stroke-width="1.2"/>
<circle cx="125.32" cy="558.12" r="3" fill="rgba(242,142,43,0.5)" stroke="#f28e2b" stroke-width="1.2"/>
<circle cx="191.94" cy="558.12" r="3" fill="rgba(242,142,43,0.5)" stroke="#f28e2b" stroke-width="1.2"/>
<circle cx="214.15" cy="550.23" r="3" fill="rgba(242,142,43,0.5)" stroke="#f28e2b" stroke-width="1.2"/>
<circle cx="236.35" cy="560.37" r="3" fill="rgba(242,142,43,0.5)" stroke="#f28e2b" stroke-width="1.2"/>
<circle cx="258.56" cy="556.99" r="3" fill="rgba(242,142,43,0.5)" stroke="#f28e2b" stroke-width="1.2"/>
<circle cx="280.76" cy="560.37" r="3" fill="rgba(242,142,43,0.5)" stroke="#f28e2b" stroke-width="1.2"/>
<circle cx="325.18" cy="558.12" r="3" fill="rgba(242,142,43,0.5)" stroke="#f28e2b" stroke-width="1.2"/>
<circle cx="347.38" cy="555.30" r="3" fill="rgba(242,142,43,0.5)" stroke="#f28e2b" stroke-width="1.2"/>
<circle cx="391.79" cy="560.37" r="3" fill="rgba(242,142,43,0.5)" stroke="#f28e2b" stroke-width="1.2"/>
<circle cx="414.00" cy="554.74" r="3" fill="rgba(242,142,43,0.5)" stroke="#f28e2b" stroke-width="1.2"/>
<circle cx="436.21" cy="537.84" r="3" fill="rgba(242,142,43,0.5)" stroke="#f28e2b" stroke-width="1.2"/>
<circle cx="480.62" cy="522.07" r="3" fill="rgba(242,142,43,0.5)" stroke="#f28e2b" stroke-width="1.2"/>
<circle cx="502.82" cy="540.09" r="3" fill="rgba(242,142,43,0.5)" stroke="#f28e2b" stroke-width="1.2"/>
<circle cx="525.03" cy="508.55" r="3" fill="rgba(242,142,43,0.5)" stroke="#f28e2b" stroke-width="1.2"/>
<circle cx="569.44" cy="416.16" r="3" fill="rgba(242,142,43,0.5)" stroke="#f28e2b" stroke-width="1.2"/>
<circle cx="613.85" cy="471.37" r="3" fill="rgba(242,142,43,0.5)" stroke="#f28e2b" stroke-width="1.2"/>
<circle cx="636.06" cy="420.67" r="3" fill="rgba(242,142,43,0.5)" stroke="#f28e2b" stroke-width="1.2"/>
<circle cx="658.26" cy="458.97" r="3" fill="rgba(242,142,43,0.5)" stroke="#f28e2b" stroke-width="1.2"/>
<circle cx="680.47" cy="436.44" r="3" fill="rgba(242,142,43,0.5)" stroke="#f28e2b" stroke-width="1.2"/>
<circle cx="702.68" cy="509.67" r="3" fill="rgba(242,142,43,0.5)" stroke="#f28e2b" stroke-width="1.2"/>
<circle cx="724.88" cy="531.08" r="3" fill="rgba(242,142,43,0.5)" stroke="#f28e2b" stroke-width="1.2"/>
<circle cx="747.09" cy="555.87" r="3" fill="rgba(242,142,43,0.5)" stroke="#f28e2b" stroke-width="1.2"/>
<circle cx="769.29" cy="553.61" r="3" fill="rgba(242,142,43,0.5)" stroke="#f28e2b" stroke-width="1.2"/>
<polyline points="325.18,559.25 347.38,558.12 369.59,556.99 391.79,549.67 414.00,546.85 436.21,518.69 458.41,556.99 480.62,534.46 502.82,479.25 525.03,541.22 547.24,424.05 569.44,469.11" fill="none" stroke="#4e79a7" stroke-width="3" stroke-linejoin="miter" stroke-miterlimit="10" stroke-linecap="butt"/>
<polyline points="613.85,397.01 636.06,399.26 658.26,489.39 680.47,484.89 702.68,545.73 724.88,510.80 747.09,505.17 769.29,543.47" fill="none" stroke="#4e79a7" stroke-width="3" stroke-linejoin="miter" stroke-miterlimit="10" stroke-linecap="butt"/>
<circle cx="103.12" cy="560.37" r="3" fill="rgba(78,121,167,0.5)" stroke="#4e79a7" stroke-width="1.2"/>
<circle cx="169.74" cy="559.25" r="3" fill="rgba(78,121,167,0.5)" stroke="#4e79a7" stroke-width="1.2"/>
<circle cx="214.15" cy="560.37" r="3" fill="rgba(78,121,167,0.5)" stroke="#4e79a7" stroke-width="1.2"/>
<circle cx="280.76" cy="554.74" r="3" fill="rgba(78,121,167,0.5)" stroke="#4e79a7" stroke-width="1.2"/>
<circle cx="325.18" cy="559.25" r="3" fill="rgba(78,121,167,0.5)" stroke="#4e79a7" stroke-width="1.2"/>
<circle cx="347.38" cy="558.12" r="3" fill="rgba(78,121,167,0.5)" stroke="#4e79a7" stroke-width="1.2"/>
<circle cx="369.59" cy="556.99" r="3" fill="rgba(78,121,167,0.5)" stroke="#4e79a7" stroke-width="1.2"/>
<circle cx="391.79" cy="549.67" r="3" fill="rgba(78,121,167,0.5)" stroke="#4e79a7" stroke-width="1.2"/>
<circle cx="414.00" cy="546.85" r="3" fill="rgba(78,121,167,0.5)" stroke="#4e79a7" stroke-width="1.2"/>
<circle cx="436.21" cy="518.69" r="3" fill="rgba(78,121,167,0.5)" stroke="#4e79a7" stroke-width="1.2"/>
<circle cx="458.41" cy="556.99" r="3" fill="rgba(78,121,167,0.5)" stroke="#4e79a7" stroke-width="1.2"/>
<circle cx="480.62" cy="534.46" r="3" fill="rgba(78,121,167,0.5)" stroke="#4e79a7" stroke-width="1.2"/>
<circle cx="502.82" cy="479.25" r="3" fill="rgba(78,121,167,0.5)" stroke="#4e79a7" stroke-width="1.2"/>
<circle cx="525.03" cy="541.22" r="3" fill="rgba(78,121,167,0.5)" stroke="#4e79a7" stroke-width="1.2"/>
<circle cx="547.24" cy="424.05" r="3" fill="rgba(78,121,167,0.5)" stroke="#4e79a7" stroke-width="1.2"/>
<circle cx="569.44" cy="469.11" r="3" fill="rgba(78,121,167,0.5)" stroke="#4e79a7" stroke-width="1.2"/>
<circle cx="613.85" cy="397.01" r="3" fill="rgba(78,121,167,0.5)" stroke="#4e79a7" stroke-width="1.2"/>
<circle cx="636.06" cy="399.26" r="3" fill="rgba(78,121,167,0.5)" stroke="#4e79a7" stroke-width="1.2"/>
<circle cx="658.26" cy="489.39" r="3" fill="rgba(78,121,167,0.5)" stroke="#4e79a7" stroke-width="1.2"/>
<circle cx="680.47" cy="484.89" r="3" fill="rgba(78,121,167,0.5)" stroke="#4e79a7" stroke-width="1.2"/>
<circle cx="702.68" cy="545.73" r="3" fill="rgba(78,121,167,0.5)" stroke="#4e79a7" stroke-width="1.2"/>
<circle cx="724.88" cy="510.80" r="3" fill="rgba(78,121,167,0.5)" stroke="#4e79a7" stroke-width="1.2"/>
<circle cx="747.09" cy="505.17" r="3" fill="rgba(78,121,167,0.5)" stroke="#4e79a7" stroke-width="1.2"/>
<circle cx="769.29" cy="543.47" r="3" fill="rgba(78,121,167,0.5)" stroke="#4e79a7" stroke-width="1.2"/>
<rect x="37.5" y="10" width="40" height="12" fill="#4e79a7" stroke="#4e79a7" stroke-width="3"/>
<text x="83.5" y="20.3" class="t">2015 Adult Delta</text>
<rect x="184.5" y="10" width="40" height="12" fill="#f28e2b" stroke="#f28e2b" stroke-width="3"/>
<text x="230.5" y="20.3" class="t">2016 Adult Delta</text>
<rect x="331.5" y="10" width="40" height="12" fill="#e15759" stroke="#e15759" stroke-width="3"/>
<text x="377.5" y="20.3" class="t">2017 Adult Delta</text>
<rect x="478.5" y="10" width="40" height="12" fill="#76b7b2" stroke="#76b7b2" stroke-width="3"/>
<text x="524.5" y="20.3" class="t">2018 Adult Delta</text>
<rect x="625.5" y="10" width="40" height="12" fill="#59a14f" stroke="#59a14f" stroke-width="3"/>
<text x="671.5" y="20.3" class="t">2019 Adult Delta</text>
<rect x="37.5" y="32" width="40" height="12" fill="#edc948" stroke="#edc948" stroke-width="3"/>
<text x="83.5" y="42.3" class="t">2020 Adult Delta</text>
<rect x="184.5" y="32" width="40" height="12" fill="#b07aa1" stroke="#b07aa1" stroke-width="3"/>
<text x="230.5" y="42.3" class="t">2021 Adult Delta</text>
<rect x="331.5" y="32" width="40" height="12" fill="#ff9da7" stroke="#ff9da7" stroke-width="3"/>
<text x="377.5" y="42.3" class="t">2022 Adult Delta</text>
<rect x="478.5" y="32" width="40" height="12" fill="#9c755f" stroke="#9c755f" stroke-width="3"/>
<text x="524.5" y="42.3" class="t">2023 Adult Delta</text>
<rect x="625.5" y="32" width="40" height="12" fill="#bab0ac" stroke="#bab0ac" stroke-width="3"/>
<text x="671.5" y="42.3" class="t">2024 Adult Delta</text>
</svg>
</body></html>
